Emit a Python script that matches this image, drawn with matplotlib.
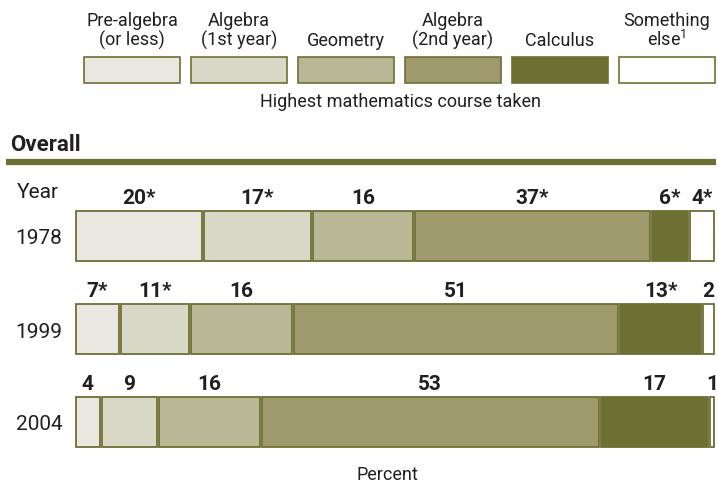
import numpy as np
import matplotlib
matplotlib.use("Agg")
import matplotlib.pyplot as plt
from matplotlib.lines import Line2D

plt.rcParams['font.family'] = ['Roboto', 'DejaVu Sans']
plt.rcParams['mathtext.default'] = 'regular'

# data
courses = ['Pre-algebra\n(or less)', 'Algebra\n(1st year)', 'Geometry',
           'Algebra\n(2nd year)', 'Calculus', 'Something\nelse$^{1}$']
colors = ['#e8e8e0', '#d8d8c6', '#bab797', '#9e9a6e', '#6e7033', '#ffffff']
edge = '#6e7033'
years = ['1978', '1999', '2004']
values = [
    [20, 17, 16, 37, 6, 4],
    [7, 11, 16, 51, 13, 2],
    [4, 9, 16, 53, 17, 1],
]
signif = [
    [True, True, False, True, True, True],
    [True, True, False, False, True, False],
    [False, False, False, False, False, False],
]

W, H = 718, 489
fig = plt.figure(figsize=(W / 100, H / 100), dpi=100)


def fx(px):
    return px / W


def fy(py):
    return 1 - py / H


# legend swatches
ax_leg = fig.add_axes([fx(78.5), fy(84), fx(642), 26 / H])
ax_leg.bar(np.arange(6), 1, width=0.897, bottom=0, color=colors,
           edgecolor=edge, linewidth=1.2, clip_on=False)
ax_leg.set_xlim(-0.5, 5.5)
ax_leg.set_ylim(0, 1)
ax_leg.axis('off')
for i, name in enumerate(courses):
    ax_leg.annotate(name, (i, 1), xytext=(0, 6), textcoords='offset points',
                    ha='center', va='bottom', fontsize=13, color='#231f20',
                    linespacing=1.0)
fig.text(fx(400), fy(102), 'Highest mathematics course taken',
         ha='center', va='center', fontsize=13, color='#231f20')

# section header
fig.text(fx(10), fy(145), 'Overall', ha='left', va='center',
         fontsize=16, fontweight='bold', color='#231f20')
fig.add_artist(Line2D([fx(6), fx(716)], [fy(163), fy(163)], color=edge,
                      linewidth=4.5, solid_capstyle='butt'))
fig.text(fx(17), fy(193), 'Year', ha='left', va='center',
         fontsize=15, color='#231f20')

# main stacked bars
ax = fig.add_axes([fx(75), fy(469.5), fx(640), 279 / H])
gap = 0.3
ypos = np.arange(len(years))
for r, row in enumerate(values):
    left = 0
    for c, v in enumerate(row):
        ax.barh(ypos[r], v - gap, left=left + gap / 2, height=0.54,
                color=colors[c], edgecolor=edge, linewidth=1.3, clip_on=False)
        lbl = f'{v}*' if signif[r][c] else f'{v}'
        ax.annotate(lbl, (left + v / 2, ypos[r] - 0.27), xytext=(0, 3),
                    textcoords='offset points', ha='center', va='bottom',
                    fontsize=15, fontweight='bold', color='#231f20')
        left += v

ax.set_xlim(0, 100)
ax.set_ylim(2.5, -0.5)
ax.set_yticks(ypos)
ax.set_yticklabels(years, fontsize=15, color='#231f20')
ax.tick_params(axis='y', length=0, pad=9)
ax.set_xticks([])
for s in ax.spines.values():
    s.set_visible(False)

fig.text(fx(387), fy(475), 'Percent', ha='center', va='center',
         fontsize=13, color='#231f20')

fig.savefig('out.png', dpi=100)
